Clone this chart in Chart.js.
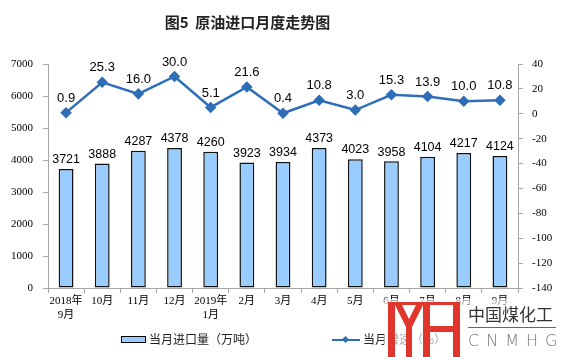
<!DOCTYPE html>
<html lang="zh">
<head>
    <meta charset="UTF-8">
    <title>图5 原油进口月度走势图</title>
    <style>
        body {
            margin: 0;
            padding: 0;
            background: #fff;
        }

        #wrap {
            position: relative;
            width: 561px;
            height: 357px;
            overflow: hidden;
        }

        #title {
            position: absolute;
            left: 0;
            width: 495px;
            top: 12px;
            text-align: center;
            font-family: 'Noto Sans CJK SC', sans-serif;
            font-size: 15px;
            font-weight: bold;
            color: #222;
            line-height: 20px;
        }

        /* Legend */
        .lg {
            position: absolute;
            top: 331px;
            font-family: 'Noto Sans CJK SC', sans-serif;
            font-size: 12px;
            line-height: 16px;
            color: #222;
            white-space: nowrap;
        }
        .lg-box {
            display: inline-block;
            width: 23px;
            height: 5px;
            background: #99CCFF;
            border: 1.5px solid #000;
            vertical-align: middle;
            margin-right: 3px;
            position: relative;
            top: -1px;
        }
        .lg-line {
            display: inline-block;
            width: 28px;
            height: 2px;
            background: #2E6DB8;
            vertical-align: middle;
            margin-right: 3px;
            position: relative;
            top: -1px;
        }
        .lg-line i {
            position: absolute;
            left: 11px;
            top: -2px;
            width: 5px;
            height: 5px;
            background: #2E6DB8;
            transform: rotate(45deg);
        }

        /* watermark over the lower right corner */
        #wm {
            position: absolute;
            left: 384px;
            top: 299px;
            width: 177px;
            height: 58px;
            background: rgba(255, 255, 255, 0.6);
        }
        #wm svg {
            position: absolute;
            left: 4px;
            top: 3px;
        }
        #wm .cn {
            position: absolute;
            left: 84px;
            top: 4px;
            font-family: 'Noto Sans CJK SC', sans-serif;
            font-size: 17px;
            line-height: 22px;
            color: #333;
        }
        #wm .rule {
            position: absolute;
            left: 84px;
            top: 28px;
            width: 88px;
            height: 1px;
            background: #E0352B;
        }
        #wm .en {
            position: absolute;
            left: 84px;
            top: 32px;
            font-family: 'DejaVu Sans', sans-serif;
            font-size: 16px;
            font-weight: 300;
            line-height: 20px;
            color: #777;
            letter-spacing: 7px;
        }
    </style>
</head>
<body>
<div id="wrap">
    <canvas id="chart"></canvas>
    <div id="title">图5&nbsp;&nbsp;原油进口月度走势图</div>

    <div class="lg" style="left:121px"><span class="lg-box"></span>当月进口量（万吨）</div>
    <div class="lg" style="left:332px"><span class="lg-line"><i></i></span>当月增速（%）</div>

    <div id="wm">
        <svg width="74" height="56" viewBox="0 0 74 56">
            <g fill="#E0352B">
                <rect x="0" y="0" width="72" height="3"/>
                <rect x="0" y="0" width="7" height="56"/>
                <polygon points="7,3 14,3 21,17 28,3 35,3 24,25 24,56 18,56 18,25"/>
                <rect x="35" y="0" width="7" height="56"/>
                <rect x="42" y="24" width="23" height="6"/>
                <rect x="65" y="0" width="7" height="56"/>
            </g>
        </svg>
        <div class="cn">中国煤化工</div>
        <div class="rule"></div>
        <div class="en">CNMHG</div>
    </div>
</div>

<script src="https://cdn.jsdelivr.net/npm/chart.js"></script>
<script>
    // data
    const months = [
        ['2018年', '9月'], '10月', '11月', '12月', ['2019年', '1月'], '2月', '3月',
        '4月', '5月', '6月', '7月', '8月', '9月'
    ];
    const importVolume = [3721, 3888, 4287, 4378, 4260, 3923, 3934, 4373, 4023, 3958, 4104, 4217, 4124];
    const growthRate = [0.9, 25.3, 16.0, 30.0, 5.1, 21.6, 0.4, 10.8, 3.0, 15.3, 13.9, 10.0, 10.8];

    const leftTicks = { min: 0, max: 7000, step: 1000 };
    const rightTicks = { min: -140, max: 40, step: 20 };

    const axisGrey = '#A6A6A6';
    const tickFont = { family: "'Liberation Serif', 'Noto Sans CJK SC', serif", size: 11 };

    // draws the number above every bar and every point
    const valueLabels = {
        id: 'valueLabels',
        afterDatasetsDraw(chart) {
            const ctx = chart.ctx;
            ctx.save();
            ctx.fillStyle = '#000';
            ctx.textAlign = 'center';
            ctx.textBaseline = 'bottom';
            chart.data.datasets.forEach((ds, i) => {
                const meta = chart.getDatasetMeta(i);
                meta.data.forEach((el, j) => {
                    if (ds.type === 'line') {
                        ctx.font = "13px 'Liberation Sans', Arial, sans-serif";
                        ctx.fillText(ds.data[j].toFixed(1), el.x, el.y - 8);
                    } else {
                        ctx.font = "12.5px 'Liberation Sans', Arial, sans-serif";
                        ctx.fillText(String(ds.data[j]), el.x, el.y - 3);
                    }
                });
            });
            ctx.restore();
        }
    };

    new Chart(document.getElementById('chart'), {
        data: {
            labels: months,
            datasets: [
                {
                    type: 'line',
                    label: '当月增速（%）',
                    data: growthRate,
                    yAxisID: 'y1',
                    borderColor: '#2E6DB8',
                    backgroundColor: '#2E6DB8',
                    borderWidth: 2.5,
                    pointStyle: 'rectRot',
                    pointRadius: 4,
                    tension: 0,
                    order: 0
                },
                {
                    type: 'bar',
                    label: '当月进口量（万吨）',
                    data: importVolume,
                    yAxisID: 'y',
                    backgroundColor: '#99CCFF',
                    borderColor: '#111',
                    borderWidth: 1.5,
                    borderSkipped: false,
                    categoryPercentage: 1,
                    barPercentage: 0.41,
                    order: 1
                }
            ]
        },
        options: {
            responsive: true,
            maintainAspectRatio: false,
            animation: false,
            layout: { padding: { top: 64, left: 0, right: 0, bottom: 0 } },
            plugins: {
                legend: { display: false },
                title: { display: false },
                tooltip: { enabled: false }
            },
            scales: {
                x: {
                    grid: {
                        drawOnChartArea: false,
                        drawTicks: true,
                        tickLength: 5,
                        color: axisGrey,
                        offset: true
                    },
                    border: { color: axisGrey, width: 1 },
                    ticks: {
                        font: tickFont,
                        color: '#000',
                        padding: 2,
                        maxRotation: 0,
                        autoSkip: false
                    },
                    afterFit(scale) { scale.height = 69; }
                },
                y: {
                    position: 'left',
                    min: leftTicks.min,
                    max: leftTicks.max,
                    grid: { drawOnChartArea: false, tickLength: 5, color: axisGrey },
                    border: { color: axisGrey, width: 1 },
                    ticks: {
                        stepSize: leftTicks.step,
                        font: tickFont,
                        color: '#000',
                        padding: 10,
                        callback: v => String(v)
                    },
                    afterFit(scale) { scale.width = 48; }
                },
                y1: {
                    position: 'right',
                    min: rightTicks.min,
                    max: rightTicks.max,
                    grid: { drawOnChartArea: false, tickLength: 5, color: axisGrey },
                    border: { color: axisGrey, width: 1 },
                    ticks: {
                        stepSize: rightTicks.step,
                        font: tickFont,
                        color: '#000',
                        padding: 9,
                        callback: v => String(v)
                    },
                    afterFit(scale) { scale.width = 43; }
                }
            }
        },
        plugins: [valueLabels]
    });
</script>
</body>
</html>
